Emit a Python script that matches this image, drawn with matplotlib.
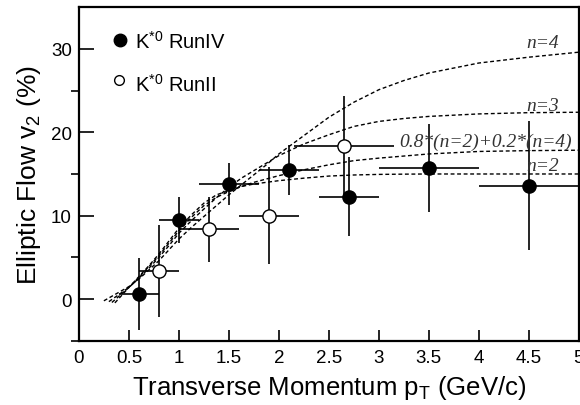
import matplotlib
matplotlib.use("Agg")
import matplotlib.pyplot as plt

plt.rcParams['font.family'] = ['Liberation Sans', 'DejaVu Sans']
plt.rcParams['mathtext.fontset'] = 'custom'
plt.rcParams['mathtext.rm'] = 'Liberation Sans'
plt.rcParams['mathtext.it'] = 'Liberation Sans:italic'

# K*0 Run IV (filled)
run4_pt = [0.6, 1.0, 1.5, 2.1, 2.7, 3.5, 4.5]
run4_v2 = [0.6, 9.5, 13.8, 15.5, 12.3, 15.7, 13.6]
run4_dpt = [0.2, 0.2, 0.3, 0.3, 0.3, 0.5, 0.5]
run4_dv2 = [4.3, 2.8, 2.5, 3.0, 4.7, 5.3, 7.7]

# K*0 Run II (open)
run2_pt = [0.8, 1.3, 1.9, 2.65]
run2_v2 = [3.4, 8.4, 10.0, 18.3]
run2_dpt = [0.2, 0.3, 0.3, 0.5]
run2_dv2 = [5.5, 3.9, 5.8, 6.1]

# expected curves
grid = [0.5, 0.6, 0.7, 0.8, 0.9, 1.0, 1.125, 1.25, 1.375, 1.5, 1.625, 1.75, 1.875, 2.0,
        2.25, 2.5, 2.75, 3.0, 3.25, 3.5, 4.0, 4.5, 5.0]
n2_pt = [0.36] + grid
n2_v2 = [-0.45, 1.4, 2.7, 4.0, 5.4, 6.95, 8.5, 10.1, 11.5, 12.5, 13.0, 13.5, 13.8, 14.0, 14.2,
         14.5, 14.75, 14.88, 14.95, 14.98, 15.0, 15.0, 15.0, 15.0]
n3_pt = [0.3] + grid
n3_v2 = [-0.3, 1.4, 2.5, 3.7, 5.0, 6.4, 7.9, 9.4, 10.8, 12.15, 13.4, 14.5, 15.4, 16.3, 17.2,
         18.6, 19.7, 20.7, 21.3, 21.65, 21.9, 22.2, 22.35, 22.4]
n4_pt = [0.25] + grid
n4_v2 = [-0.2, 1.5, 2.4, 3.5, 4.6, 5.9, 7.2, 8.6, 9.9, 11.2, 12.5, 13.7, 14.9, 16.1, 17.4,
         19.6, 21.8, 23.6, 25.1, 26.2, 27.1, 28.3, 29.0, 29.6]
mix_pt = [0.33] + grid
mix_v2 = [-0.4, 1.4, 2.6, 3.9, 5.2, 6.7, 8.2, 9.8, 11.2, 12.2, 12.9, 13.5, 14.0, 14.4, 14.8,
          15.5, 16.1, 16.6, 16.9, 17.15, 17.4, 17.7, 17.8, 17.85]

fig = plt.figure(figsize=(5.8, 4.06), dpi=100)
ax = fig.add_axes([0.136, 0.158, 0.862, 0.822])

dash = (0, (2.8, 1.9))
for px, py in [(n2_pt, n2_v2), (n3_pt, n3_v2), (n4_pt, n4_v2), (mix_pt, mix_v2)]:
    ax.plot(px, py, color='black', lw=1.0, linestyle=dash)

ax.errorbar(run4_pt, run4_v2, xerr=run4_dpt, yerr=run4_dv2, fmt='o', color='black',
            ms=9.5, elinewidth=1.2, capsize=0, zorder=3)
ax.errorbar(run2_pt, run2_v2, xerr=run2_dpt, yerr=run2_dv2, fmt='o', color='black',
            mfc='white', mec='black', mew=1.0, ms=9.5, elinewidth=1.2, capsize=0, zorder=3)

# curve labels
serif = dict(family=['Liberation Serif', 'DejaVu Serif'], style='italic', fontsize=14,
             color='#333333', ha='center', va='center')
ax.text(4.64, 30.8, 'n=4', **serif)
ax.text(4.64, 23.2, 'n=3', **serif)
ax.text(4.07, 18.9, '0.8*(n=2)+0.2*(n=4)', **serif)
ax.text(4.64, 16.0, 'n=2', **serif)

# legend
ax.plot([0.41], [31.0], 'o', color='black', ms=9)
ax.plot([0.40], [26.3], 'o', mfc='white', mec='black', mew=1.0, ms=7)
ax.text(0.56, 30.9, r'K$^{*0}$ RunIV', fontsize=14.5, va='center')
ax.text(0.56, 25.8, r'K$^{*0}$ RunII', fontsize=14.5, va='center')

ax.set_xlim(0, 5)
ax.set_ylim(-5, 35)
ax.set_xticks([0, 0.5, 1, 1.5, 2, 2.5, 3, 3.5, 4, 4.5, 5])
ax.set_xticklabels(['0', '0.5', '1', '1.5', '2', '2.5', '3', '3.5', '4', '4.5', '5'])
ax.set_yticks([0, 10, 20, 30])
ax.set_yticks([-5, 5, 15, 25], minor=True)
ax.tick_params(axis='both', direction='in', labelsize=13.5, width=1.2)
ax.tick_params(axis='x', length=8, pad=6)
ax.tick_params(axis='y', which='major', length=11, pad=5)
ax.tick_params(axis='y', which='minor', length=6, width=1.2)
for s in ax.spines.values():
    s.set_linewidth(1.6)

ax.set_xlabel(r'Transverse Momentum p$_{\mathregular{T}}$ (GeV/c)', fontsize=18.5, labelpad=5)
ax.set_ylabel(r'Elliptic Flow v$_{\mathregular{2}}$ (%)', fontsize=19, labelpad=6)

fig.savefig('out.png', dpi=100)
